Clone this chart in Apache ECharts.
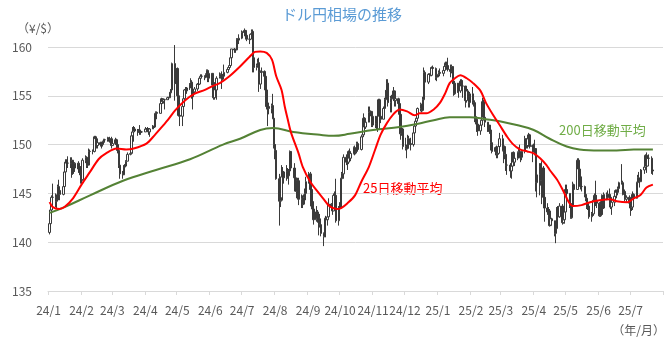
<!DOCTYPE html>
<html><head><meta charset="utf-8">
<script src="https://cdn.jsdelivr.net/npm/echarts@6/dist/echarts.min.js"></script>
<style>html,body{margin:0;padding:0;background:#fff}#c{width:670px;height:339px}</style>
</head><body><div id="c"></div>
<script>
// ---- axis range (calendar days) ----
const axisStart = '2024-01-01', axisEnd = '2025-07-31';
const firstDay = '2024-01-02', lastDay = '2025-07-22';
const holidays = ['2024-01-01', '2025-01-01'];
const yMin = 135, yMax = 160, yStep = 5;
const firstOpen = 141.0;

// ---- daily closes / highs / lows (trading days) ----
const closes = [
// 2024-01
141.9,143.3,144.6,144.6,144.2,144.4,145.7,145.3,144.9,145.7,147.2,148.2,148.1,148.1,148.1,148.4,147.5,147.6,148.1,147.5,147.6,146.9,
// 2024-02
146.4,148.4,148.7,147.9,147.9,149.3,149.3,149.3,150.8,150.6,149.9,150.2,150.0,150.0,150.3,150.5,150.5,150.7,150.5,150.6,149.9,
// 2024-03
150.1,150.5,150.0,149.4,147.9,147.0,146.9,147.7,147.8,148.3,149.0,149.1,150.9,151.3,151.6,151.4,151.4,151.5,151.3,151.3,151.3,
// 2024-04
151.6,151.6,151.6,151.3,151.6,151.9,151.8,153.2,153.3,153.2,154.2,154.7,154.4,154.6,154.6,154.8,154.8,155.3,155.6,158.3,156.3,157.8,
// 2024-05
155.0,153.0,152.9,153.9,154.7,155.6,155.5,155.8,156.2,156.4,154.9,155.4,155.7,156.2,156.2,156.8,157.0,157.0,156.9,157.2,157.6,156.8,157.3,
// 2024-06
156.1,154.8,156.1,155.6,156.8,157.0,157.2,156.7,157.0,157.4,157.7,157.9,158.1,158.9,159.8,159.7,159.7,160.8,160.7,160.9,
// 2024-07
161.5,161.5,161.7,161.2,160.8,160.8,161.3,161.6,158.9,157.9,158.1,158.4,156.2,157.4,157.5,157.0,155.6,153.9,153.9,153.7,154.0,152.7,150.0,
// 2024-08
149.4,146.5,144.2,144.3,146.7,147.2,146.6,147.2,146.8,147.3,149.3,147.6,146.6,145.3,145.2,146.3,144.4,144.5,143.9,144.6,145.0,146.2,
// 2024-09
147.0,145.4,143.7,143.4,142.3,143.1,142.4,142.4,141.8,140.9,140.6,142.4,142.3,142.6,143.9,143.6,143.2,144.8,144.8,142.2,143.6,
// 2024-10
143.5,146.5,147.0,148.7,148.2,148.2,149.3,148.6,149.1,149.7,149.2,149.3,150.1,149.5,150.8,151.0,152.7,151.8,152.3,153.3,153.4,153.4,152.0,
// 2024-11
152.9,152.2,151.6,154.6,152.9,152.6,153.7,154.6,155.5,156.3,154.3,154.7,154.7,155.5,154.5,154.7,154.2,153.1,151.1,151.6,149.8,
// 2024-12
149.6,149.6,150.6,150.1,150.0,151.2,151.9,152.4,152.7,153.7,154.1,153.5,154.6,157.4,156.4,157.2,157.2,157.1,157.9,157.8,156.9,157.2,
// 2025-01
157.4,157.3,157.6,158.0,158.3,158.1,157.7,157.5,158.0,156.5,155.2,156.3,155.6,155.5,156.5,156.0,156.0,154.5,155.5,155.2,154.3,155.2,
// 2025-02
154.5,154.3,152.6,152.1,151.4,152.0,152.5,154.4,152.8,152.3,151.5,152.0,151.5,150.2,149.3,149.7,149.0,149.1,149.8,150.6,
// 2025-03
149.4,149.8,149.0,147.9,147.9,147.3,147.8,149.2,148.2,148.6,149.2,149.3,148.7,148.7,149.3,150.6,149.9,150.6,151.0,149.8,149.9,
// 2025-04
149.6,149.6,146.1,146.9,147.8,146.3,147.6,144.6,143.5,143.1,143.2,141.7,142.4,142.2,140.9,141.4,143.5,142.6,143.7,142.0,142.3,143.1,
// 2025-05
145.4,145.0,143.7,142.5,143.8,145.9,145.4,148.4,147.5,146.7,145.7,145.7,144.9,144.5,143.6,143.7,142.6,142.9,144.3,144.8,144.2,144.0,
// 2025-06
142.7,143.9,144.8,143.5,144.9,144.6,144.9,144.6,143.6,144.1,144.7,145.3,145.1,145.5,146.1,146.1,144.9,145.2,144.4,144.6,144.0,
// 2025-07
143.5,143.6,144.9,144.5,146.1,146.6,146.3,146.2,147.4,147.7,148.9,147.8,148.6,148.6,147.4,147.3
];
const highs = [
142.2,143.7,144.8,146.0,145.0,144.9,145.9,146.4,145.6,145.9,147.3,148.5,148.5,148.8,148.7,148.7,148.3,147.9,148.2,148.3,147.9,147.8,
147.1,148.6,148.9,148.8,148.2,149.6,149.5,149.5,150.9,150.9,150.3,150.4,150.3,150.3,150.4,150.6,150.6,150.8,150.7,150.8,150.8,
150.5,150.7,150.6,150.1,149.4,148.1,147.3,147.9,148.0,148.4,149.2,149.3,151.0,151.8,151.9,151.8,151.6,151.6,152.0,151.5,151.4,
151.8,151.7,151.8,151.7,151.7,152.0,151.9,153.2,153.4,153.4,154.4,154.8,154.7,154.7,154.7,154.9,154.9,155.4,155.7,158.4,160.2,157.9,
157.9,155.9,153.5,154.0,154.8,155.7,155.9,155.9,156.3,156.8,156.6,155.5,155.9,156.3,156.4,156.8,157.2,157.2,157.1,157.3,157.7,157.7,157.4,
157.3,156.3,156.4,156.5,157.0,157.4,157.3,157.5,157.2,158.2,157.8,157.9,158.2,159.0,159.8,159.9,159.8,160.9,160.9,161.3,
161.7,161.6,161.9,161.6,161.3,161.0,161.4,161.8,161.8,159.5,158.3,158.8,158.9,157.6,157.9,157.6,157.2,155.7,154.0,154.3,154.2,155.2,153.0,
150.9,150.0,147.0,146.3,147.9,147.7,147.3,147.9,147.6,147.5,149.4,149.2,148.1,147.1,146.0,146.6,146.6,144.9,144.8,144.9,145.5,146.7,
147.2,147.2,145.6,144.0,144.2,143.7,143.3,142.7,142.9,141.9,141.0,142.5,142.7,143.6,144.5,144.0,144.0,145.0,145.2,146.5,143.7,
144.1,146.6,147.2,149.0,149.0,148.4,149.4,149.6,149.2,149.8,149.9,149.6,150.3,150.3,150.9,151.3,153.2,152.8,152.4,153.9,153.9,153.5,153.4,
153.1,152.7,152.5,154.7,154.7,153.2,153.9,154.8,155.6,156.7,156.7,155.0,155.1,155.9,155.0,155.0,154.8,154.3,153.2,151.8,151.7,
150.7,150.0,151.0,150.9,150.7,151.3,152.0,152.5,152.8,153.8,154.3,154.2,154.9,157.9,157.6,157.3,157.3,157.4,158.0,158.1,157.9,157.3,
157.6,157.8,158.0,158.4,158.5,158.5,158.9,158.2,158.2,158.0,156.6,156.5,156.3,156.2,156.7,156.7,156.6,156.0,155.6,155.7,155.2,155.4,
155.9,155.1,154.4,152.9,152.0,152.2,152.6,154.8,154.6,153.0,152.3,152.2,152.0,151.5,150.8,149.8,149.9,149.5,150.0,151.2,
151.0,150.0,149.9,149.2,148.4,148.1,148.1,149.2,149.3,149.0,149.3,149.7,150.0,149.0,149.4,150.9,150.6,150.7,151.2,151.1,150.0,
150.1,150.5,149.5,147.0,148.1,148.1,148.3,147.8,144.8,144.0,143.6,143.4,142.9,142.5,142.2,141.8,143.6,143.7,144.0,143.9,142.8,143.5,
145.9,145.9,145.0,143.8,144.0,146.2,146.0,148.6,148.6,147.6,146.9,146.1,145.8,145.2,144.6,144.1,144.0,143.1,144.5,145.0,146.3,144.8,
144.1,144.2,144.9,144.8,145.1,145.1,145.3,145.5,144.7,144.5,144.8,145.4,145.4,145.7,146.2,148.0,146.3,145.6,145.4,144.8,144.8,
144.1,144.3,145.2,145.0,146.2,146.9,147.2,146.5,147.5,147.8,149.0,149.2,148.8,149.0,148.8,147.7
];
const lows = [
140.8,141.5,143.0,143.8,143.6,143.4,144.2,144.3,144.3,144.8,145.6,146.9,147.6,147.6,147.6,146.6,146.9,147.0,147.2,147.1,146.9,146.0,
145.9,146.3,148.1,147.6,147.6,147.9,148.9,149.0,149.2,150.3,149.6,149.6,149.8,149.6,149.8,150.1,150.2,150.3,150.3,150.2,149.6,
149.9,150.0,149.8,149.1,147.6,146.5,146.5,146.9,147.4,147.7,148.3,148.9,149.2,150.7,150.3,151.3,150.9,151.2,151.0,151.0,151.2,
151.3,151.4,151.5,151.0,150.8,151.6,151.7,151.7,152.8,152.6,153.2,154.1,154.2,154.2,153.6,154.6,154.6,154.8,155.1,155.4,154.5,156.2,
153.0,153.0,151.9,151.9,153.8,154.6,155.2,155.2,155.6,155.9,154.7,153.6,155.2,155.5,155.9,156.1,156.6,156.8,156.6,156.8,156.9,156.4,156.4,
156.0,154.6,154.6,155.4,154.6,156.8,156.8,155.7,156.6,156.8,157.3,157.6,157.8,158.0,158.8,159.4,159.4,159.7,160.4,160.3,
160.8,161.3,161.1,161.1,160.6,160.3,160.7,161.2,157.4,157.4,157.6,158.0,155.4,155.7,157.2,156.8,155.3,153.6,151.9,153.1,153.2,152.6,149.6,
148.5,146.4,141.7,143.6,144.6,145.2,146.0,146.3,146.5,145.9,146.9,147.3,145.2,145.2,144.5,144.9,143.8,143.5,143.5,143.8,143.9,144.3,
146.0,145.3,143.5,142.6,141.8,142.1,142.0,140.7,141.5,140.6,139.6,140.5,140.5,141.7,142.5,143.3,142.8,143.2,144.0,142.0,141.7,
142.9,143.4,146.3,146.5,147.9,147.4,148.0,148.3,148.3,149.0,148.9,149.0,149.1,149.4,149.4,150.5,150.8,151.7,151.6,152.5,152.9,152.9,151.8,
151.8,151.7,151.3,151.6,152.8,152.2,152.6,153.6,154.4,155.3,153.9,153.3,153.3,154.5,153.9,153.9,153.5,152.9,150.5,150.9,149.5,
149.4,148.6,149.5,149.9,149.4,149.8,151.1,151.6,151.9,152.6,153.4,153.3,153.4,154.5,156.0,156.2,156.9,157.0,157.0,157.4,156.6,156.5,
156.9,157.0,157.0,157.6,157.8,157.8,157.5,156.9,157.3,156.2,155.0,155.1,155.3,154.8,155.3,155.8,154.8,153.8,154.3,154.9,153.8,153.8,
154.1,153.9,152.3,151.3,150.9,151.0,151.5,152.4,152.5,151.8,151.3,151.3,151.1,149.4,149.1,148.9,148.6,148.6,149.0,149.6,
149.3,148.1,148.5,147.3,146.9,146.6,146.5,147.7,147.8,147.8,148.4,148.9,148.6,148.2,148.4,149.1,149.6,149.6,150.0,149.6,148.2,
149.2,148.9,145.2,144.6,144.8,145.8,143.9,144.4,142.1,142.8,142.6,141.6,141.8,142.0,140.6,139.9,141.3,142.0,142.5,141.8,141.9,141.9,
142.9,144.4,143.5,142.4,142.4,143.4,145.0,145.4,147.2,146.0,145.4,145.2,144.6,144.2,143.4,143.3,142.4,142.1,142.7,144.1,143.7,143.5,
142.6,142.6,143.6,142.8,143.4,144.3,144.4,144.4,143.4,142.8,143.7,144.1,144.5,144.8,145.4,145.9,144.8,144.9,144.2,144.1,143.8,
142.7,143.2,143.3,144.2,144.8,145.9,146.2,145.6,146.2,147.0,147.6,147.1,147.8,148.5,147.0,146.9
];

// ---- 25-day moving average ----
const ma25Dates = ['2024-01-02','2024-01-05','2024-01-11','2024-01-16','2024-01-24','2024-02-01','2024-02-09','2024-02-17','2024-02-24','2024-03-05','2024-03-14','2024-03-21','2024-04-02','2024-04-10','2024-04-18','2024-04-22','2024-04-29','2024-05-08','2024-05-17','2024-05-27','2024-06-03','2024-06-10','2024-06-19','2024-06-29','2024-07-08','2024-07-13','2024-07-18','2024-07-24','2024-07-29','2024-08-02','2024-08-07','2024-08-10','2024-08-13','2024-08-16','2024-08-23','2024-08-27','2024-09-03','2024-09-09','2024-09-15','2024-09-21','2024-09-28','2024-10-02','2024-10-08','2024-10-15','2024-10-21','2024-10-28','2024-11-03','2024-11-08','2024-11-14','2024-11-20','2024-11-26','2024-12-03','2024-12-10','2024-12-15','2024-12-21','2024-12-28','2025-01-03','2025-01-08','2025-01-12','2025-01-17','2025-01-22','2025-01-28','2025-02-03','2025-02-10','2025-02-15','2025-02-22','2025-02-28','2025-03-07','2025-03-12','2025-03-19','2025-03-26','2025-04-01','2025-04-07','2025-04-13','2025-04-16','2025-04-23','2025-04-29','2025-05-04','2025-05-08','2025-05-16','2025-05-24','2025-06-02','2025-06-12','2025-06-18','2025-06-28','2025-07-04','2025-07-10','2025-07-16','2025-07-22'];
const ma25Vals = [144.1,143.6,143.4,143.6,144.5,145.9,147.2,148.5,149.1,149.6,149.5,149.6,150.1,151.0,152.0,152.5,153.5,154.5,155.2,155.6,156.0,156.3,157.0,158.0,159.0,159.5,159.55,159.4,158.7,157.0,155.6,153.9,152.5,151.2,149.1,147.7,146.2,145.3,144.5,143.7,143.4,143.5,144.0,144.8,146.2,147.7,149.5,151.0,152.2,153.1,153.6,153.4,153.0,153.2,153.2,153.6,154.3,155.3,156.3,156.8,157.1,156.8,156.3,155.5,154.3,153.0,152.0,150.8,150.1,149.5,149.3,149.1,148.6,147.9,147.4,146.4,145.2,144.1,143.7,143.8,144.1,144.3,144.4,144.2,144.1,144.5,144.8,145.6,145.9];

// ---- 200-day moving average ----
const ma200Dates = ['2024-01-02','2024-01-16','2024-02-09','2024-03-11','2024-04-11','2024-05-13','2024-06-13','2024-06-29','2024-07-18','2024-07-30','2024-08-18','2024-09-12','2024-09-25','2024-10-10','2024-11-01','2024-11-26','2024-12-12','2024-12-28','2025-01-12','2025-01-31','2025-02-15','2025-02-28','2025-03-16','2025-04-01','2025-04-16','2025-05-02','2025-05-14','2025-06-02','2025-06-18','2025-07-04','2025-07-22'];
const ma200Vals = [143.0,143.6,144.8,146.3,147.4,148.5,150.0,150.6,151.5,151.7,151.3,151.0,150.9,151.1,151.5,151.8,152.1,152.5,152.8,152.8,152.6,152.4,152.0,151.5,150.6,149.8,149.5,149.4,149.4,149.5,149.5];

// ---- build tables ----
const iso = d => d.toISOString().slice(0, 10);
const categories = [];
for (let t = Date.parse(axisStart + 'T00:00:00Z'); t <= Date.parse(axisEnd + 'T00:00:00Z'); t += 86400000) categories.push(iso(new Date(t)));
const tradeDays = [];
for (let t = Date.parse(firstDay + 'T00:00:00Z'); t <= Date.parse(lastDay + 'T00:00:00Z'); t += 86400000) {
  const d = new Date(t), wd = d.getUTCDay(), s = iso(d);
  if (wd === 0 || wd === 6 || holidays.includes(s)) continue;
  tradeDays.push(s);
}
if (tradeDays.length !== closes.length) console.error('length mismatch', tradeDays.length, closes.length);
const idx = {}; categories.forEach((c, i) => idx[c] = i);
const candle = categories.map(() => '-');
tradeDays.forEach((s, i) => {
  const o = i === 0 ? firstOpen : closes[i - 1];
  candle[idx[s]] = [o, closes[i], lows[i], highs[i]];
});
const ma25 = categories.map(() => null);
ma25Dates.forEach((s, i) => ma25[idx[s]] = ma25Vals[i]);
const ma200 = categories.map(() => null);
ma200Dates.forEach((s, i) => ma200[idx[s]] = ma200Vals[i]);

const FONT = "'Noto Sans CJK JP', 'Noto Sans', sans-serif";
const isMonthStart = (i, v) => v.slice(8) === '01';

const chart = echarts.init(document.getElementById('c'), null, { renderer: 'canvas' });
chart.setOption({
  animation: false,
  backgroundColor: '#ffffff',
  textStyle: { fontFamily: FONT },
  grid: { left: 48, right: 7, top: 47, bottom: 48 },
  xAxis: {
    type: 'category', data: categories, boundaryGap: true,
    axisLine: { lineStyle: { color: '#d9d9d9', width: 1 } },
    axisTick: { show: true, interval: isMonthStart, length: 4, lineStyle: { color: '#d9d9d9' } },
    axisLabel: {
      interval: isMonthStart, margin: 13, color: '#595959', fontSize: 12, fontFamily: FONT,
      formatter: v => v.slice(2, 4) + '/' + (+v.slice(5, 7))
    },
    splitLine: { show: false }
  },
  yAxis: {
    type: 'value', min: yMin, max: yMax, interval: yStep,
    axisLine: { show: false }, axisTick: { show: false },
    axisLabel: { color: '#595959', fontSize: 12, margin: 16, fontFamily: FONT },
    splitLine: { lineStyle: { color: '#d9d9d9', width: 1 } }
  },
  series: [
    {
      type: 'candlestick', data: candle, barWidth: 2, clip: false,
      itemStyle: { color: '#ffffff', color0: '#3a3a3a', borderColor: '#3a3a3a', borderColor0: '#3a3a3a', borderWidth: 1 }
    },
    {
      type: 'line', data: ma200, connectNulls: true, showSymbol: false, symbol: 'none', smooth: 0.4, clip: false,
      lineStyle: { color: '#548235', width: 2 }, z: 3
    },
    {
      type: 'line', data: ma25, connectNulls: true, showSymbol: false, symbol: 'none', smooth: 0.3, clip: false,
      lineStyle: { color: '#ff0000', width: 2 }, z: 4
    }
  ],
  graphic: [
    { type: 'text', x: 342, y: 14, style: { text: 'ドル円相場の推移', font: "15px " + FONT, fill: '#5b9bd5', align: 'center', verticalAlign: 'middle' } },
    { type: 'text', x: 17, y: 28, style: { text: '（¥/$）', font: "12px " + FONT, fill: '#595959', align: 'left', verticalAlign: 'middle' } },
    { type: 'text', x: 665, y: 330, style: { text: '（年/月）', font: "12px " + FONT, fill: '#595959', align: 'right', verticalAlign: 'middle' } },
    { type: 'text', x: 363, y: 188, style: { text: '25日移動平均', font: "13px " + FONT, fill: '#ff0000', align: 'left', verticalAlign: 'middle' } },
    { type: 'text', x: 559, y: 130, style: { text: '200日移動平均', font: "13px " + FONT, fill: '#70ad47', align: 'left', verticalAlign: 'middle' } }
  ]
});
</script>
</body></html>
